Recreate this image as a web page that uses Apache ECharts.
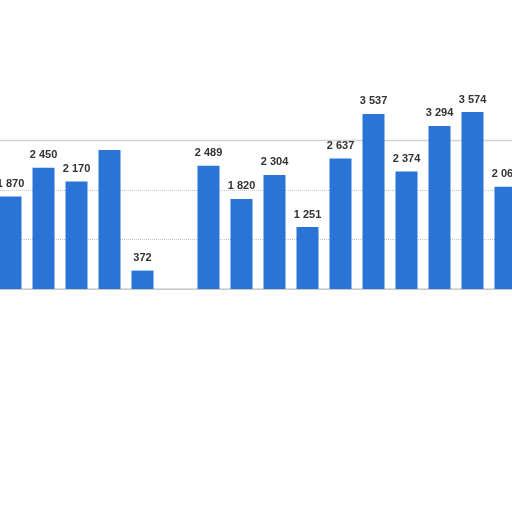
<!DOCTYPE html>
<html><head><meta charset="utf-8">
<script src="https://cdn.jsdelivr.net/npm/echarts@6/dist/echarts.min.js"></script>
<style>html,body{margin:0;padding:0;background:#fff;overflow:hidden}#c{position:absolute;left:-6px;top:0;width:528px;height:512px}</style>
</head><body><div id="c"></div>
<script>
const categories = ['2005','2006','2007','2008','2009','2010','2011','2012','2013','2014','2015','2016','2017','2018','2019','2020'];
const values = [1870, 2450, 2170, 2810, 372, 0, 2489, 1820, 2304, 1251, 2637, 3537, 2374, 3294, 3574, 2065];
const hiddenLabels = [3, 5];

const fmt = v => String(v).replace(/\B(?=(\d{3})+(?!\d))/g, ' ');
const chart = echarts.init(document.getElementById('c'));
chart.setOption({
  animation: false,
  backgroundColor: '#ffffff',
  grid: { left: 0, right: 0, top: 140.5, bottom: 223, containLabel: false,
          show: true, borderColor: '#d2d2d2', borderWidth: 1.5, backgroundColor: 'transparent' },
  xAxis: {
    type: 'category', data: categories,
    axisLine: { show: true, lineStyle: { color: '#c8c8c8', width: 1 } },
    axisTick: { show: false }, axisLabel: { show: false },
    splitArea: { show: false }
  },
  yAxis: {
    type: 'value', min: 0, max: 3000, interval: 1000,
    axisLine: { show: false }, axisTick: { show: false }, axisLabel: { show: false },
    splitLine: { show: true, lineStyle: { type: 'dotted', color: ['transparent', '#c4c4c4', '#c4c4c4', 'transparent'], width: 1 } }
  },
  series: [{
    type: 'bar', barWidth: 22, clip: false,
    data: values.map((v, i) => ({ value: v, label: { show: !hiddenLabels.includes(i) } })),
    itemStyle: { color: '#2a74d8' },
    label: {
      show: true, position: 'top', distance: 7,
      color: '#333', fontWeight: 'bold', fontSize: 11, fontFamily: 'Liberation Sans',
      formatter: p => fmt(p.value)
    }
  }]
});
</script></body></html>
